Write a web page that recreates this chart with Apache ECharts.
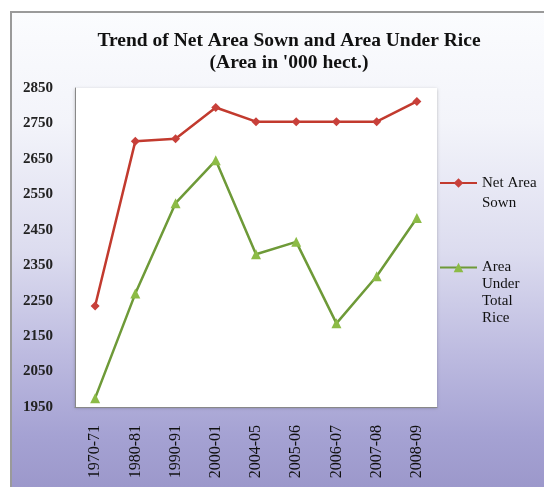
<!DOCTYPE html>
<html><head><meta charset="utf-8">
<script src="https://cdn.jsdelivr.net/npm/echarts@6/dist/echarts.min.js"></script>
<style>html,body{margin:0;padding:0;background:#fff}#c{width:544px;height:487px}</style>
</head><body><div id="c"></div>
<script>
const categories = ['1970-71','1980-81','1990-91','2000-01','2004-05','2005-06','2006-07','2007-08','2008-09'];
const netAreaSown = [2235, 2700, 2707, 2795, 2755, 2755, 2755, 2755, 2812];
const areaUnderRice = [1975, 2270, 2525, 2646, 2381, 2416, 2186, 2319, 2483];
const seriesNames = ['Net Area\nSown', 'Area\nUnder\nTotal\nRice'];
const titleText = "Trend of Net Area Sown and Area Under Rice\n(Area in '000 hect.)";

const chart = echarts.init(document.getElementById('c'), null, {renderer:'canvas'});
const serif = '"Liberation Serif","DejaVu Serif",serif';
// pad with blank lines above so the first text line sits level with the legend icon
function topAligned(name){
  const n = name.split('\n').length;
  return '\n'.repeat(n - 1) + name;
}
chart.setOption({
  animation:false,
  graphic:[{
    type:'rect', z:-10, silent:true,
    shape:{x:11, y:12, width:540, height:480},
    style:{
      fill:new echarts.graphic.LinearGradient(0,0,0,1,[
        {offset:0,color:'#fbfcfe'},
        {offset:0.23,color:'#f3f4fa'},
        {offset:0.5,color:'#dcdcef'},
        {offset:0.71,color:'#bdbbe0'},
        {offset:0.88,color:'#a5a2d3'},
        {offset:1,color:'#9b97ca'}
      ]),
      stroke:'#9a9a9a', lineWidth:2
    }
  }],
  title:{
    text:titleText, left:289, top:30, textAlign:'center', padding:0,
    textStyle:{fontFamily:serif, fontWeight:'bold', fontSize:19.5, color:'#111', lineHeight:22}
  },
  grid:{left:75, right:107, top:88, bottom:80, show:true, backgroundColor:'#ffffff', borderWidth:0,
        shadowColor:'rgba(0,0,0,0.25)', shadowBlur:3, shadowOffsetY:1},
  legend:[{
    orient:'vertical', left:439, top:153, padding:0, itemWidth:37, itemHeight:12,
    formatter:topAligned,
    textStyle:{fontFamily:serif, fontSize:15, color:'#111', lineHeight:20},
    data:[seriesNames[0]]
  },{
    orient:'vertical', left:439, top:208, padding:0, itemWidth:37, itemHeight:12,
    formatter:topAligned,
    textStyle:{fontFamily:serif, fontSize:15, color:'#111', lineHeight:17},
    data:[seriesNames[1]]
  }],
  xAxis:{
    type:'category', data:categories, boundaryGap:true,
    axisLine:{show:true, lineStyle:{color:'#888'}},
    axisTick:{show:false},
    axisLabel:{rotate:90, fontFamily:serif, fontSize:16, color:'#111', margin:18}
  },
  yAxis:{
    type:'value', min:1950, max:2850, interval:100,
    axisLine:{show:true, lineStyle:{color:'#888'}},
    axisTick:{show:false},
    splitLine:{show:false},
    axisLabel:{fontFamily:serif, fontSize:15, fontWeight:'bold', color:'#222', margin:22,
               formatter:function(v){return String(v);}}
  },
  series:[
    {name:seriesNames[0], type:'line', data:netAreaSown, symbol:'diamond', symbolSize:9,
     lineStyle:{color:'#c23a2e', width:2.5}, itemStyle:{color:'#c8403a'}},
    {name:seriesNames[1], type:'line', data:areaUnderRice, symbol:'triangle', symbolSize:10,
     lineStyle:{color:'#6e9a38', width:2.5}, itemStyle:{color:'#8cbb46'}}
  ]
});
</script></body></html>
